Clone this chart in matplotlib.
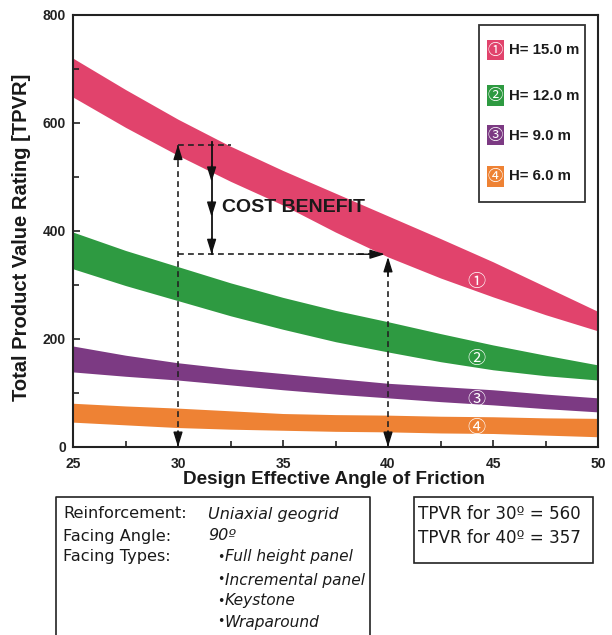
import matplotlib
matplotlib.use('Agg')
import matplotlib.pyplot as plt
from matplotlib.patches import Rectangle
from matplotlib.lines import Line2D

# ---------------- data ----------------
angles = [25, 27.5, 30, 32.5, 35, 37.5, 40, 42.5, 45, 47.5, 50]
h15_upper = [720, 662, 607, 557, 512, 470, 428, 386, 343, 297, 251]
h15_lower = [648, 592, 540, 492, 448, 398, 352, 313, 278, 245, 215]
h12_upper = [398, 364, 334, 304, 277, 253, 232, 210, 189, 170, 152]
h12_lower = [330, 299, 271, 243, 218, 195, 176, 158, 143, 132, 124]
h9_upper = [187, 170, 156, 145, 136, 127, 118, 112, 106, 98, 91]
h9_lower = [139, 131, 124, 115, 106, 98, 91, 84, 78, 71, 65]
h6_upper = [81, 76, 72, 67, 62, 60, 59, 57, 56, 54, 53]
h6_lower = [46, 41, 36, 33, 31, 29, 28, 26, 25, 22, 19]

heights = ['H= 15.0 m', 'H= 12.0 m', 'H= 9.0 m', 'H= 6.0 m']
markers = ['\u2460', '\u2461', '\u2462', '\u2463']
colors = ['#E1436C', '#2E9A41', '#7C3A83', '#EE8234']
marker_pos = [(44.2, 305), (44.2, 163), (44.2, 87), (44.2, 35)]

x_ticks = [25, 30, 35, 40, 45, 50]
y_ticks = [0, 200, 400, 600, 800]

angle_a, angle_b = 30, 40
tpvr_a, tpvr_b = 560, 357
benefit_x = 31.6
benefit_arrow_tips = [491, 426, 357]

info_left = [("Reinforcement:", "Uniaxial geogrid", False),
             ("Facing Angle:", "90\u00ba", False),
             ("Facing Types:", "Full height panel", True),
             ("", "Incremental panel", True),
             ("", "Keystone", True),
             ("", "Wraparound", True)]
info_right = ["TPVR for 30\u00ba = 560", "TPVR for 40\u00ba = 357"]

# ---------------- figure ----------------
W, H = 612, 635
fig = plt.figure(figsize=(W / 100, H / 100), dpi=100)
fig.patch.set_facecolor('white')


def fx(px):
    return px / W


def fy(py):
    return 1 - py / H


BOLD = ['Liberation Sans', 'DejaVu Sans']
INFO = ['DejaVu Sans']
CIRC = ['Noto Sans CJK JP', 'DejaVu Sans']
INK = '#1a1a1a'

ax = fig.add_axes([fx(73), fy(447), fx(598) - fx(73), fy(15) - fy(447)])

bands = [(h15_lower, h15_upper), (h12_lower, h12_upper),
         (h9_lower, h9_upper), (h6_lower, h6_upper)]
for (lo, hi), c in zip(bands, colors):
    ax.fill_between(angles, lo, hi, color=c, lw=0, zorder=1)

ax.set_xlim(25, 50)
ax.set_ylim(0, 800)
ax.set_xticks(x_ticks)
ax.set_yticks(y_ticks)
ax.set_xticks([27.5, 32.5, 37.5, 42.5, 47.5], minor=True)
ax.set_yticks([100, 300, 500, 700], minor=True)
ax.tick_params(which='both', direction='in', top=False, right=False,
               color='#222222', width=1.2)
ax.tick_params(which='major', length=5)
ax.tick_params(axis='x', which='major', pad=7)
ax.tick_params(axis='y', which='major', pad=5)
ax.tick_params(which='minor', length=4)
for lab in ax.get_xticklabels() + ax.get_yticklabels():
    lab.set_fontfamily(BOLD)
    lab.set_fontweight('bold')
    lab.set_fontsize(10)
    lab.set_color('#222222')
for sp in ax.spines.values():
    sp.set_linewidth(1.5)
    sp.set_color('#222222')

# circled numbers on the bands
for m, (xm, ym) in zip(markers, marker_pos):
    ax.text(xm, ym, m, color='white', fontsize=13, family=CIRC,
            ha='center', va='center', zorder=5)

# ---------------- annotations ----------------
dash = dict(color='#222222', lw=1.2, ls=(0, (3.5, 2.5)), zorder=3)
head = dict(arrowstyle='-|>,head_length=0.9,head_width=0.28',
            color='#111111', lw=1.0, shrinkA=0, shrinkB=0)


def arrow_head(x0, y0, x1, y1):
    ax.annotate('', xy=(x1, y1), xytext=(x0, y0), arrowprops=head, zorder=4)


ax.plot([angle_a, angle_a], [0, tpvr_a], **dash)
arrow_head(angle_a, tpvr_a - 30, angle_a, tpvr_a)
arrow_head(angle_a, 30, angle_a, 0)
ax.plot([angle_a, 32.5], [tpvr_a, tpvr_a], **dash)
ax.plot([angle_a, angle_b - 0.3], [tpvr_b, tpvr_b], **dash)
arrow_head(angle_b - 1.5, tpvr_b, angle_b - 0.15, tpvr_b)
ax.plot([angle_b, angle_b], [0, tpvr_b - 5], **dash)
arrow_head(angle_b, tpvr_b - 40, angle_b, tpvr_b - 5)
arrow_head(angle_b, 30, angle_b, 0)
ax.plot([benefit_x, benefit_x], [tpvr_a + 5, tpvr_b], color='#111111',
        lw=1.3, zorder=3)
for t in benefit_arrow_tips:
    arrow_head(benefit_x, t + 30, benefit_x, t)
ax.text(32.1, 443, 'COST BENEFIT', fontsize=14, fontweight='bold',
        family=BOLD, color=INK, ha='left', va='center', zorder=5)

# ---------------- legend (manual) ----------------
fig.patches.append(Rectangle((fx(479), fy(202)), fx(585) - fx(479),
                             fy(25) - fy(202), transform=fig.transFigure,
                             fill=False, ec='#333333', lw=1.3))
leg_y = [50, 95.5, 135.5, 176.5]
for lab, m, c, yy in zip(heights, markers, colors, leg_y):
    fig.patches.append(Rectangle((fx(487), fy(yy + 10)), fx(504) - fx(487),
                                 fy(yy - 10) - fy(yy + 10),
                                 transform=fig.transFigure, color=c, lw=0))
    fig.text(fx(495.5), fy(yy), m, color='white', fontsize=11, family=CIRC,
             ha='center', va='center')
    fig.text(fx(509), fy(yy), lab, fontsize=10.8, fontweight='bold',
             family=BOLD, ha='left', va='center', color=INK)

# ---------------- axis labels ----------------
fig.text(fx(334), fy(479), 'Design Effective Angle of Friction',
         fontsize=13.6, fontweight='bold', family=BOLD, ha='center',
         va='center', color=INK)
fig.text(fx(22), fy(237), 'Total Product Value Rating [TPVR]', fontsize=14.5,
         fontweight='bold', family=BOLD, ha='center', va='center',
         rotation=90, color=INK)

# ---------------- info boxes ----------------
fig.add_artist(Line2D([fx(56), fx(56), fx(370), fx(370)],
                      [fy(640), fy(497), fy(497), fy(640)],
                      transform=fig.transFigure, color='#222222', lw=1.2))
line_y = [514, 536, 557, 580, 601, 622]
FS = 11.6
FSI = 11.1
for (head_txt, val, bullet), yy in zip(info_left, line_y):
    if head_txt:
        fig.text(fx(63), fy(yy), head_txt, fontsize=FS, family=INFO,
                 ha='left', va='center', color=INK)
    if bullet:
        fig.text(fx(217), fy(yy), '\u2022', fontsize=9, family=INFO,
                 ha='left', va='center', color=INK)
        fig.text(fx(225), fy(yy), val, fontsize=FSI, family=INFO,
                 style='italic', ha='left', va='center', color=INK)
    else:
        fig.text(fx(208), fy(yy), val, fontsize=FSI + 0.4, family=INFO,
                 style='italic', ha='left', va='center', color=INK)

fig.patches.append(Rectangle((fx(414), fy(563)), fx(593) - fx(414),
                             fy(497) - fy(563), transform=fig.transFigure,
                             fill=False, ec='#222222', lw=1.2))
for txt, yy in zip(info_right, [514, 538]):
    fig.text(fx(418), fy(yy), txt, fontsize=12.1, family=INFO,
             ha='left', va='center', color=INK)

fig.savefig('out.png', dpi=100, facecolor='white')
